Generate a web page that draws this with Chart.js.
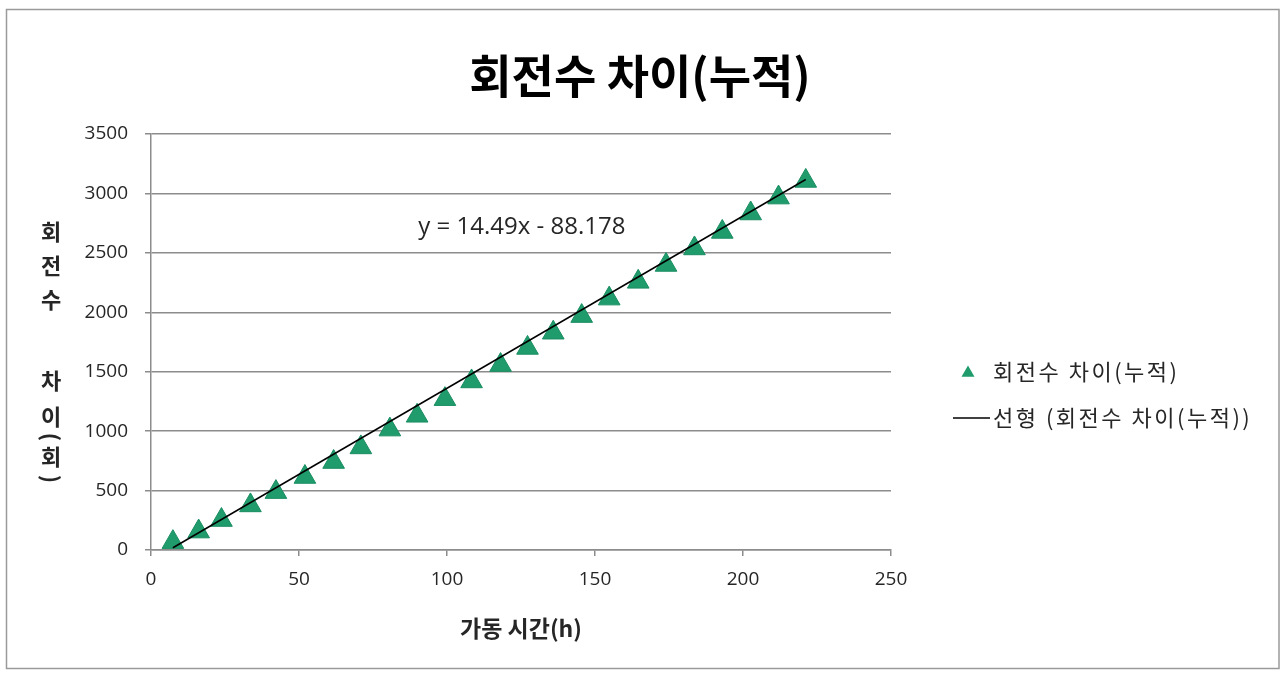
<!DOCTYPE html>
<html>
<head>
<meta charset="utf-8">
<script src="https://cdn.jsdelivr.net/npm/chart.js@4.4.1/dist/chart.umd.min.js"></script>
<style>
  html, body { margin: 0; padding: 0; background: #ffffff; }
  #wrap { width: 1281px; height: 674px; position: relative; }
  canvas { display: block; }
</style>
</head>
<body>
<div id="wrap"><canvas id="chart" width="1281" height="674"></canvas></div>
<script>
// 가동 시간(h) 별 누적 회전수 차이
const hours = [7.4, 16.1, 23.8, 33.6, 42.2, 52.0, 61.7, 70.9, 80.7, 89.9, 99.3, 108.3,
               118.1, 127.2, 135.9, 145.5, 154.8, 164.6, 174.0, 183.6, 193.0, 202.6, 212.0, 221.2];
const revDiff = [66, 155, 252, 375, 487, 614, 740, 863, 1013, 1129, 1269, 1418,
                 1556, 1700, 1828, 1968, 2115, 2256, 2398, 2537, 2676, 2831, 2965, 3105];

// 선형 추세선 계수 (y = 14.49x - 88.178)
const trendSlope = 14.49;
const trendIntercept = -88.178;

const xTicks = [0, 50, 100, 150, 200, 250];
const yTicks = [0, 500, 1000, 1500, 2000, 2500, 3000, 3500];

const seriesLabel = '회전수 차이(누적)';
const trendLabel = '선형 (회전수 차이(누적))';
const chartTitle = '회전수 차이(누적)';
const xTitle = '가동 시간(h)';
const yTitleChars = ['회', '전', '수', '', '차', '이', '(', '회', ')'];

const GREEN = '#1f9b6c';
const KR = '"Noto Sans CJK KR", "Noto Sans", sans-serif';
const NUM = '"Open Sans", "Noto Sans CJK KR", sans-serif';

const points = hours.map((h, i) => ({ x: h, y: revDiff[i] }));
const trendX = [hours[0], hours[hours.length - 1]];
const trendPoints = trendX.map(x => ({ x: x, y: trendSlope * x + trendIntercept }));

const equationText = 'y = ' + trendSlope + 'x - ' + Math.abs(trendIntercept);

// 외곽 테두리, 제목, 세로 축 제목, 추세식, 범례
const decorations = {
  id: 'decorations',
  beforeDraw(chart) {
    const ctx = chart.ctx;
    ctx.save();
    ctx.fillStyle = '#ffffff';
    ctx.fillRect(0, 0, chart.width, chart.height);
    ctx.strokeStyle = '#9a9a9a';
    ctx.lineWidth = 1.5;
    ctx.strokeRect(6.5, 9.5, 1272.5, 659);
    ctx.restore();
  },
  afterDraw(chart) {
    const ctx = chart.ctx;
    const xs = chart.scales.x, ys = chart.scales.y;
    ctx.save();

    // 제목
    ctx.fillStyle = '#000000';
    ctx.font = 'bold 46px ' + KR;
    ctx.textAlign = 'center';
    ctx.textBaseline = 'middle';
    ctx.fillText(chartTitle, 640, 76);

    // 세로로 쌓은 축 제목
    ctx.fillStyle = '#262626';
    ctx.font = 'bold 22px ' + KR;
    const yPos = [232, 266, 300, 340, 381, 417, 437, 457, 479];
    yTitleChars.forEach((ch, i) => {
      if (!ch) return;
      if (ch === '(' || ch === ')') {
        ctx.save();
        ctx.translate(51, yPos[i]);
        ctx.rotate(Math.PI / 2);
        ctx.fillText(ch, 0, 0);
        ctx.restore();
      } else {
        ctx.fillText(ch, 51, yPos[i]);
      }
    });

    // 추세식
    ctx.fillStyle = '#262626';
    ctx.font = '24px ' + NUM;
    ctx.fillText(equationText, xs.getPixelForValue(125.3), ys.getPixelForValue(2715));

    // 범례
    const lx = 993;
    const y1 = 372, y2 = 418;
    ctx.fillStyle = GREEN;
    ctx.beginPath();
    const r = 7.5, cx = 968, cy = y1 + 1;
    ctx.moveTo(cx, cy - r);
    ctx.lineTo(cx + r * Math.sin(2 * Math.PI / 3), cy - r * Math.cos(2 * Math.PI / 3));
    ctx.lineTo(cx + r * Math.sin(4 * Math.PI / 3), cy - r * Math.cos(4 * Math.PI / 3));
    ctx.closePath();
    ctx.fill();
    ctx.strokeStyle = '#000000';
    ctx.lineWidth = 1.5;
    ctx.beginPath();
    ctx.moveTo(953, y2);
    ctx.lineTo(990, y2);
    ctx.stroke();

    ctx.fillStyle = '#262626';
    ctx.font = '22px ' + KR;
    ctx.textAlign = 'left';
    if ('letterSpacing' in ctx) ctx.letterSpacing = '2.5px';
    ctx.fillText(chart.data.datasets[0].label, lx, y1);
    ctx.fillText(chart.data.datasets[1].label, lx, y2);

    ctx.restore();
  }
};

new Chart(document.getElementById('chart'), {
  type: 'scatter',
  data: {
    datasets: [
      {
        label: seriesLabel,
        data: points,
        pointStyle: 'triangle',
        pointRadius: 12.5,
        pointHoverRadius: 12.5,
        backgroundColor: GREEN,
        borderColor: '#1a8d62',
        borderWidth: 1,
        showLine: false,
        order: 1
      },
      {
        label: trendLabel,
        type: 'line',
        data: trendPoints,
        borderColor: '#000000',
        borderWidth: 1.5,
        pointRadius: 0,
        fill: false,
        tension: 0,
        order: 0
      }
    ]
  },
  options: {
    responsive: false,
    animation: false,
    events: [],
    layout: { padding: { left: 0, right: 390, top: 134, bottom: 0 } },
    plugins: {
      legend: { display: false },
      tooltip: { enabled: false },
      title: { display: false }
    },
    scales: {
      x: {
        type: 'linear',
        position: 'bottom',
        min: 0,
        max: 250,
        afterFit(scale) { scale.height = 124; },
        afterBuildTicks(scale) { scale.ticks = xTicks.map(v => ({ value: v })); },
        ticks: {
          color: '#262626',
          font: { family: NUM, size: 19 },
          padding: 12,
          callback: v => String(v)
        },
        grid: {
          drawOnChartArea: false,
          drawTicks: true,
          tickLength: 6,
          color: '#8c8c8c',
          lineWidth: 1.5
        },
        border: { color: '#8c8c8c', width: 1.5 },
        title: {
          display: true,
          text: xTitle,
          color: '#262626',
          font: { family: KR, size: 23, weight: 'bold' },
          padding: { top: 0, bottom: 32 }
        }
      },
      y: {
        type: 'linear',
        position: 'left',
        min: 0,
        max: 3500,
        afterFit(scale) { scale.width = 151; },
        afterBuildTicks(scale) { scale.ticks = yTicks.map(v => ({ value: v })); },
        ticks: {
          color: '#262626',
          font: { family: NUM, size: 19 },
          padding: 17,
          callback: v => String(v)
        },
        grid: {
          drawTicks: true,
          tickLength: 6,
          color: '#8c8c8c',
          lineWidth: 1.5
        },
        border: { color: '#8c8c8c', width: 1.5 }
      }
    }
  },
  plugins: [decorations]
});
</script>
</body>
</html>
